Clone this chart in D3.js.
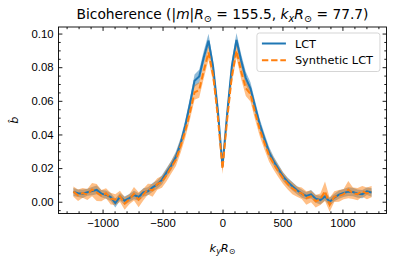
<!DOCTYPE html>
<html>
<head>
<meta charset="utf-8">
<script src="https://cdn.jsdelivr.net/npm/d3@7"></script>
<style>
  body { margin: 0; background: #fff; }
  svg { font-family: "DejaVu Sans", sans-serif; }
  .tick text { font-size: 11.3px; fill: #000; }
  .tick line { stroke: #000; stroke-width: 0.9; }
</style>
</head>
<body>
<div id="chart"></div>
<script>
// k_y R_sun grid
const kValues = [
  -1243.2, -1204.4, -1165.5, -1126.7, -1087.8, -1049.0, -1010.1, -971.3, -932.4, -893.6,
  -854.7, -815.9, -777.0, -738.2, -699.3, -660.5, -621.6, -582.8, -543.9, -505.1,
  -466.2, -427.4, -388.5, -349.7, -310.8, -272.0, -233.1, -194.3, -155.4, -116.6,
  -77.7, -38.9, 0,
  38.9, 77.7, 116.6, 155.4, 194.3, 233.1, 272.0, 310.8, 349.7, 388.5,
  427.4, 466.2, 505.1, 543.9, 582.8, 621.6, 660.5, 699.3, 738.2, 777.0,
  815.9, 854.7, 893.6, 932.4, 971.3, 1010.1, 1049.0, 1087.8, 1126.7, 1165.5, 1204.4, 1243.2
];

const lctValues = [
  0.0058, 0.0050, 0.0047, 0.0056, 0.0063, 0.0070, 0.0048, 0.0042, 0.0028, -0.0008,
  0.0030, 0.0006, 0.0022, 0.0040, 0.0028, 0.0055, 0.0062, 0.0085, 0.0102, 0.0130,
  0.0175, 0.0215, 0.0268, 0.0345, 0.0452, 0.0580, 0.0720, 0.0745, 0.0860, 0.0958,
  0.0800, 0.0545, 0.0210,
  0.0525, 0.0805, 0.0962, 0.0840, 0.0735, 0.0675, 0.0565, 0.0460, 0.0375, 0.0295,
  0.0240, 0.0195, 0.0150, 0.0118, 0.0092, 0.0068, 0.0048, 0.0035, 0.0044, 0.0018,
  0.0010, 0.0032, 0.0000, 0.0025, 0.0042, 0.0052, 0.0060, 0.0058, 0.0048, 0.0045, 0.0062, 0.0055
];
const lctErr = [
  0.0024, 0.0022, 0.0025, 0.0021, 0.0024, 0.0026, 0.0022, 0.0025, 0.0024, 0.0027,
  0.0022, 0.0025, 0.0024, 0.0025, 0.0022, 0.0025, 0.0024, 0.0026, 0.0025, 0.0027,
  0.0026, 0.0028, 0.0030, 0.0032, 0.0033, 0.0035, 0.0037, 0.0040, 0.0039, 0.0041,
  0.0037, 0.0032, 0.0025,
  0.0032, 0.0037, 0.0041, 0.0039, 0.0038, 0.0036, 0.0034, 0.0032, 0.0031, 0.0030,
  0.0028, 0.0027, 0.0026, 0.0025, 0.0025, 0.0024, 0.0025, 0.0022, 0.0025, 0.0024,
  0.0026, 0.0024, 0.0025, 0.0022, 0.0025, 0.0024, 0.0026, 0.0025, 0.0024, 0.0025, 0.0022, 0.0025
];

const synValues = [
  0.0060, 0.0038, 0.0052, 0.0043, 0.0072, 0.0055, 0.0036, 0.0050, 0.0018, 0.0012,
  0.0032, -0.0010, 0.0015, 0.0047, 0.0012, 0.0042, 0.0075, 0.0068, 0.0105, 0.0118,
  0.0158, 0.0205, 0.0250, 0.0330, 0.0420, 0.0530, 0.0650, 0.0665, 0.0780, 0.0888,
  0.0750, 0.0505, 0.0195,
  0.0490, 0.0745, 0.0898, 0.0775, 0.0675, 0.0640, 0.0530, 0.0430, 0.0350, 0.0275,
  0.0225, 0.0180, 0.0140, 0.0105, 0.0080, 0.0060, 0.0050, 0.0022, 0.0032, 0.0003,
  0.0015, 0.0062, -0.0018, 0.0030, 0.0035, 0.0045, 0.0072, 0.0050, 0.0045, 0.0062, 0.0050, 0.0060
];
const synErr = [
  0.0030, 0.0034, 0.0029, 0.0033, 0.0040, 0.0050, 0.0033, 0.0030, 0.0035, 0.0032,
  0.0034, 0.0037, 0.0030, 0.0040, 0.0045, 0.0035, 0.0032, 0.0038, 0.0034, 0.0035,
  0.0036, 0.0037, 0.0038, 0.0040, 0.0041, 0.0042, 0.0044, 0.0046, 0.0044, 0.0043,
  0.0042, 0.0037, 0.0030,
  0.0037, 0.0042, 0.0043, 0.0045, 0.0046, 0.0044, 0.0042, 0.0040, 0.0039, 0.0037,
  0.0036, 0.0035, 0.0034, 0.0033, 0.0035, 0.0031, 0.0034, 0.0040, 0.0035, 0.0037,
  0.0034, 0.0058, 0.0042, 0.0032, 0.0035, 0.0031, 0.0052, 0.0034, 0.0036, 0.0032, 0.0035, 0.0034
];

const xMajor = [-1000, -500, 0, 500, 1000];
const yMajor = [0.00, 0.02, 0.04, 0.06, 0.08, 0.10];

const seriesNames = ["LCT", "Synthetic LCT"];
const colors = ["#1f77b4", "#ff7f0e"];

const W = 395, H = 266;
const margin = { top: 27, right: 8.5, bottom: 52.5, left: 58.5 };
const width = W - margin.left - margin.right,
      height = H - margin.top - margin.bottom;

const svgRoot = d3.select("#chart").append("svg")
  .attr("width", W)
  .attr("height", H);

const svg = svgRoot.append("g")
  .attr("transform", `translate(${margin.left},${margin.top})`);

const x = d3.scaleLinear().domain([-1367.5, 1367.5]).range([0, width]);
const y = d3.scaleLinear().domain([-0.0070, 0.1039]).range([height, 0]);

const series = [
  { name: seriesNames[0], values: lctValues, err: lctErr, color: colors[0], dash: null },
  { name: seriesNames[1], values: synValues, err: synErr, color: colors[1], dash: "6.4,2.8" }
];

const area = d3.area()
  .x((d, i) => x(kValues[i]))
  .y0(d => y(d.v - d.e))
  .y1(d => y(d.v + d.e));

const line = d3.line()
  .x((d, i) => x(kValues[i]))
  .y(d => y(d.v));

svg.append("clipPath").attr("id", "clip")
  .append("rect").attr("width", width).attr("height", height);

const plot = svg.append("g").attr("clip-path", "url(#clip)");

series.forEach(s => {
  const pts = s.values.map((v, i) => ({ v: v, e: s.err[i] }));
  plot.append("path")
    .attr("d", area(pts))
    .attr("fill", s.color)
    .attr("fill-opacity", 0.5);
});
series.forEach(s => {
  const pts = s.values.map((v, i) => ({ v: v, e: s.err[i] }));
  plot.append("path")
    .attr("d", line(pts))
    .attr("fill", "none")
    .attr("stroke", s.color)
    .attr("stroke-width", 2)
    .attr("stroke-dasharray", s.dash);
});

// minor tick positions
const xMinor = d3.range(-1300, 1301, 100).filter(v => v % 500 !== 0);
const yMinor = d3.range(-0.005, 0.1035, 0.005).filter(v => Math.abs(Math.round(v * 1000) % 20) > 0.5);

function addAxis(axisFn, scale, major, minor, transform, fmt) {
  svg.append("g")
    .attr("transform", transform)
    .call(axisFn(scale).tickValues(minor).tickSize(-2.2).tickFormat(""))
    .call(g => g.select(".domain").remove());
  svg.append("g")
    .attr("transform", transform)
    .call(axisFn(scale).tickValues(major).tickSize(-3.9).tickPadding(5).tickFormat(fmt))
    .call(g => g.select(".domain").remove());
}

addAxis(d3.axisBottom, x, xMajor, xMinor, `translate(0,${height})`, d3.format("d"));
addAxis(d3.axisTop, x, xMajor, xMinor, "translate(0,0)", "");
addAxis(d3.axisLeft, y, yMajor, yMinor, "translate(0,0)", d3.format(".2f"));
addAxis(d3.axisRight, y, yMajor, yMinor, `translate(${width},0)`, "");

// frame
svg.append("rect")
  .attr("width", width)
  .attr("height", height)
  .attr("fill", "none")
  .attr("stroke", "#000")
  .attr("stroke-width", 0.9);

// legend
const legend = svg.append("g")
  .attr("transform", `translate(${x(287)}, 6)`);

legend.append("rect")
  .attr("width", 123)
  .attr("height", 38.5)
  .attr("rx", 2.5)
  .attr("fill", "#fff")
  .attr("fill-opacity", 0.8)
  .attr("stroke", "#d0d0d0")
  .attr("stroke-width", 0.9);

series.forEach((s, i) => {
  const ly = 10.5 + i * 16.7;
  legend.append("line")
    .attr("x1", 5).attr("x2", 29)
    .attr("y1", ly).attr("y2", ly)
    .attr("stroke", s.color)
    .attr("stroke-width", 2)
    .attr("stroke-dasharray", s.dash);
  legend.append("text")
    .attr("x", 38)
    .attr("y", ly + 4)
    .style("font-size", "11.3px")
    .text(s.name);
});

// title
const title = svgRoot.append("text")
  .attr("x", margin.left + width / 2)
  .attr("y", 19)
  .attr("text-anchor", "middle")
  .style("font-size", "13.8px");
title.append("tspan").text("Bicoherence (|");
title.append("tspan").style("font-style", "italic").text("m");
title.append("tspan").text("|");
title.append("tspan").style("font-style", "italic").text("R");
title.append("tspan").attr("dy", 2.6).style("font-size", "9.7px").text("\u2299");
title.append("tspan").attr("dy", -2.6).text(" = 155.5, ");
title.append("tspan").style("font-style", "italic").text("k");
title.append("tspan").attr("dy", 2.6).style("font-size", "9.7px").style("font-style", "italic").text("x");
title.append("tspan").attr("dy", -2.6).style("font-style", "italic").text("R");
title.append("tspan").attr("dy", 2.6).style("font-size", "9.7px").text("\u2299");
title.append("tspan").attr("dy", -2.6).text(" = 77.7)");

// x label
const xl = svgRoot.append("text")
  .attr("x", margin.left + width / 2)
  .attr("y", 252)
  .attr("text-anchor", "middle")
  .style("font-size", "11.3px");
xl.append("tspan").style("font-style", "italic").text("k");
xl.append("tspan").attr("dy", 2.2).style("font-size", "8px").style("font-style", "italic").text("y");
xl.append("tspan").attr("dy", -2.2).style("font-style", "italic").text("R");
xl.append("tspan").attr("dy", 2.2).style("font-size", "8px").text("\u2299");

// y label
svgRoot.append("text")
  .attr("transform", `translate(18,${margin.top + height / 2}) rotate(-90)`)
  .attr("text-anchor", "middle")
  .style("font-size", "11.3px")
  .style("font-style", "italic")
  .text("b\u0302");
</script>
</body>
</html>
